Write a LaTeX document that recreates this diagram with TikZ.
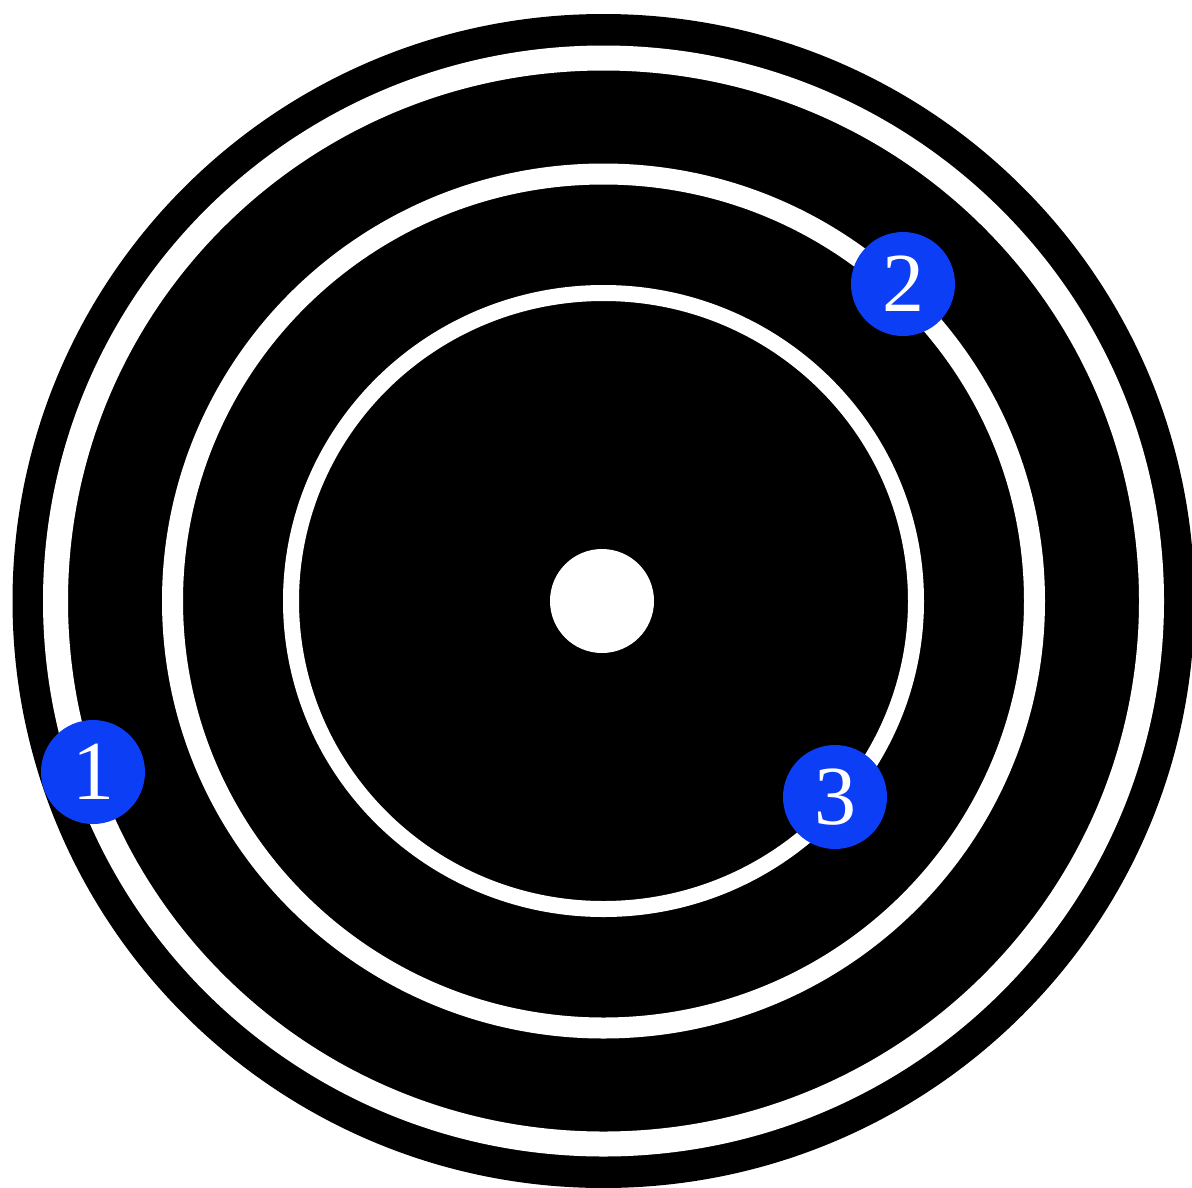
\documentclass[tikz,border=0pt]{standalone}
\usepackage{fontspec}
\setmainfont{Liberation Serif}
\definecolor{badgeblue}{RGB}{12,62,246}
\tikzset{
  whitering/.style={draw=white},
  badge/.style={circle, fill=badgeblue, minimum size=104pt, inner sep=0pt,
    text=white, font=\fontsize{84}{84}\selectfont}
}
\begin{document}
\begin{tikzpicture}[x=1pt,y=-1pt]
\useasboundingbox[fill=white] (0,0) rectangle (1192,1187);
\coordinate (c) at (603.5,601);
\fill[black] (c) ellipse[x radius=591, y radius=587];
\draw[whitering, line width=25pt] (c) ellipse[x radius=548, y radius=543];
\draw[whitering, line width=21pt] (c) ellipse[x radius=431, y radius=427];
\draw[whitering, line width=16pt] (c) ellipse[x radius=312.5, y radius=308];
\fill[white] (602,601) circle[radius=52];
\node[badge] (b1) at (93,772) {1};
\node[badge] (b2) at (903,284) {2};
\node[badge] (b3) at (835,797) {3};
\end{tikzpicture}
\end{document}
